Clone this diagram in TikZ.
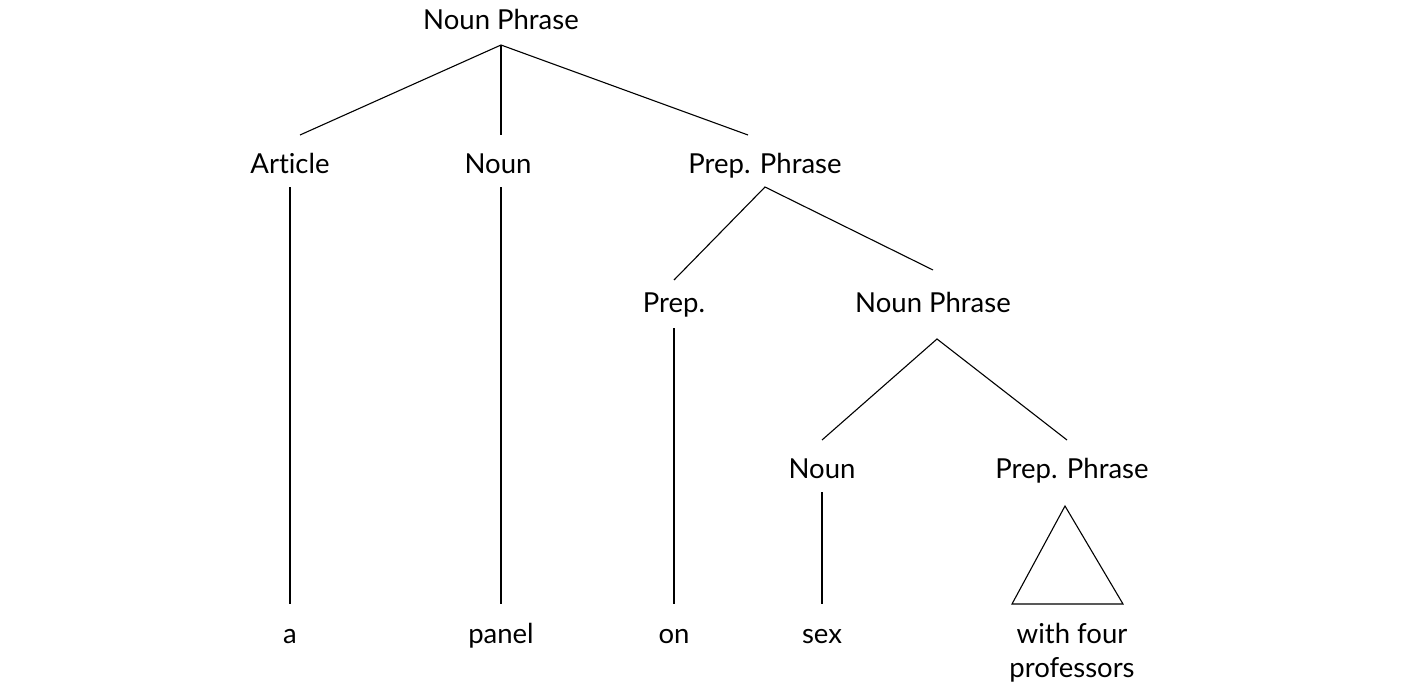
\documentclass[tikz,border=0pt]{standalone}
\usepackage{fontspec}
\setmainfont[Ligatures={NoCommon,NoRequired,NoContextual}]{Lato}
\begin{document}
\begin{tikzpicture}[x=1pt,y=-1pt,
  lbl/.style={font=\fontsize{27.5}{34}\selectfont, inner sep=0pt, anchor=base, align=center},
  edge/.style={draw=black, line width=1.1pt}]
\useasboundingbox (0,0) rectangle (1409,688);
% labels
\node[lbl] (np0) at (501,30) {Noun Phrase};
\node[lbl] (art) at (290,173) {Article};
\node[lbl] (n1) at (498,173) {Noun};
\node[lbl] (pp1) at (765,173) {Prep. Phrase};
\node[lbl] (prep) at (674,312) {Prep.};
\node[lbl] (np1) at (933,312) {Noun Phrase};
\node[lbl] (n2) at (822,478) {Noun};
\node[lbl] (pp2) at (1072,478) {Prep. Phrase};
\node[lbl] (wa) at (290,643) {a};
\node[lbl] (wpanel) at (501,643) {panel};
\node[lbl] (won) at (674,643) {on};
\node[lbl] (wsex) at (822,643) {sex};
\node[lbl] (wpp) at (1072,677) {with four\\professors};
% connection points
\coordinate (np0b) at (501,45);
\coordinate (artt) at (300,135);
\coordinate (n1t) at (501,135);
\coordinate (pp1t) at (748,135);
\coordinate (artb) at (290,187);
\coordinate (arte) at (290,604);
\coordinate (n1b) at (501,187);
\coordinate (n1e) at (501,604);
\coordinate (pp1b) at (765,187);
\coordinate (prept) at (674,280);
\coordinate (np1t) at (933,270);
\coordinate (prepb) at (674,328);
\coordinate (prepe) at (674,604);
\coordinate (np1b) at (937,339);
\coordinate (n2t) at (822,440);
\coordinate (pp2t) at (1067,440);
\coordinate (n2b) at (822,492);
\coordinate (n2e) at (822,604);
\coordinate (tria) at (1065,506);
\coordinate (tril) at (1012,604);
\coordinate (trir) at (1123,604);
% edges
\draw[edge] (artt) -- (np0b) -- (pp1t);
\draw[edge] (np0b) -- (n1t);
\draw[edge] (artb) -- (arte);
\draw[edge] (n1b) -- (n1e);
\draw[edge] (prept) -- (pp1b) -- (np1t);
\draw[edge] (prepb) -- (prepe);
\draw[edge] (n2t) -- (np1b) -- (pp2t);
\draw[edge] (n2b) -- (n2e);
\draw[edge] (tria) -- (tril) -- (trir) -- cycle;
\end{tikzpicture}
\end{document}
